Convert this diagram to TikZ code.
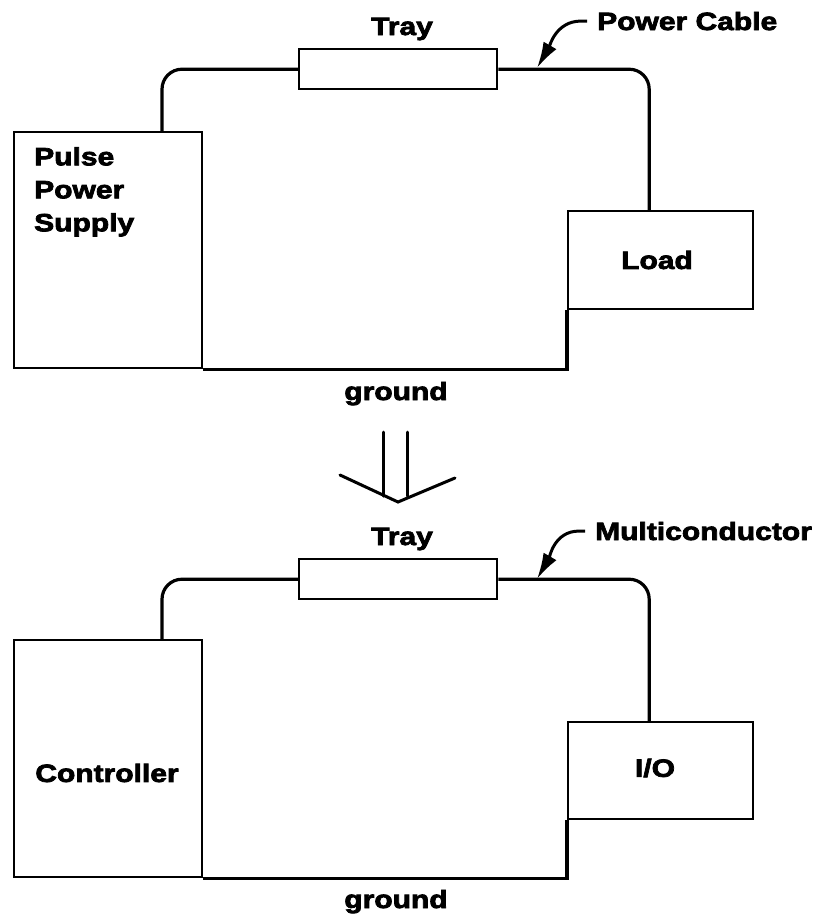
\documentclass[tikz,border=0pt]{standalone}
\usepackage{fontspec}
\usetikzlibrary{arrows.meta}
\newfontfamily\lblfont{Liberation Sans}[FakeStretch=1.2,BoldFeatures={FakeBold=3}]
\begin{document}
\begin{tikzpicture}[x=1pt,y=-1pt,
  box/.style={draw=black,line width=2.4pt,fill=none,inner sep=0pt,anchor=north west},
  wire/.style={line width=3.2pt,rounded corners=20pt},
  gnd/.style={line width=3.2pt,line join=miter},
  lbl/.style={inner sep=0pt,font=\lblfont\bfseries\fontsize{25}{33}\selectfont},
  pointer/.style={line width=3pt,-{Latex[length=26pt,width=15pt]}},
  bigarrow/.style={line width=3pt,line cap=round}]
\useasboundingbox (0,0) rectangle (815,916);

% ---------- top section ----------
\node[box,minimum width=188pt,minimum height=236pt] (pps) at (13,131) {};
\node[box,minimum width=198pt,minimum height=40pt] (tray) at (298,48) {};
\node[box,minimum width=185pt,minimum height=98pt] (load) at (567,210) {};

\node[lbl,anchor=north west,align=left] (ppstext) at (34,147) {Pulse\\Power\\Supply};
\node[lbl] (loadtext) at (657,260) {Load};
\node[lbl,anchor=base] (traylbl) at (402,35) {Tray};
\node[lbl,anchor=base west] (pclbl) at (597,30) {Power Cable};
\node[lbl,anchor=base] (gndlbl) at (396,400) {ground};

\draw[wire] (tray.west) -| ([xshift=149pt]pps.north west);
\draw[wire] (tray.east) -| ([xshift=-11.5pt]load.north);
\draw[gnd] (pps.south east) -| (load.south west);

\coordinate (pctip) at (537,68);
\draw[pointer] ([xshift=-10pt]pclbl.west) -- ++(-6,0) to[out=180,in=60] (pctip);

% ---------- transition arrow ----------
\draw[bigarrow] (383,432) -- (383,496);
\draw[bigarrow] (407,432) -- (407,496);
\draw[bigarrow] (340,475) -- (398,502) -- (455,478);

% ---------- bottom section ----------
\node[box,minimum width=188pt,minimum height=237pt] (ctrl) at (13,639) {};
\node[box,minimum width=198pt,minimum height=40pt] (tray2) at (298,558) {};
\node[box,minimum width=185pt,minimum height=97pt] (io) at (567,721) {};

\node[lbl] (ctrltext) at (107,773) {Controller};
\node[lbl] (iotext) at (655,768) {I/O};
\node[lbl,anchor=base] (tray2lbl) at (402,545) {Tray};
\node[lbl,anchor=base west] (mclbl) at (595,540) {Multiconductor};
\node[lbl,anchor=base] (gnd2lbl) at (396,908) {ground};

\draw[wire] (tray2.west) -| ([xshift=149pt]ctrl.north west);
\draw[wire] (tray2.east) -| ([xshift=-11.5pt]io.north);
\draw[gnd] (ctrl.south east) -| (io.south west);

\coordinate (mctip) at (537,579);
\draw[pointer] ([xshift=-10pt]mclbl.west) -- ++(-6,0) to[out=180,in=60] (mctip);
\end{tikzpicture}
\end{document}
